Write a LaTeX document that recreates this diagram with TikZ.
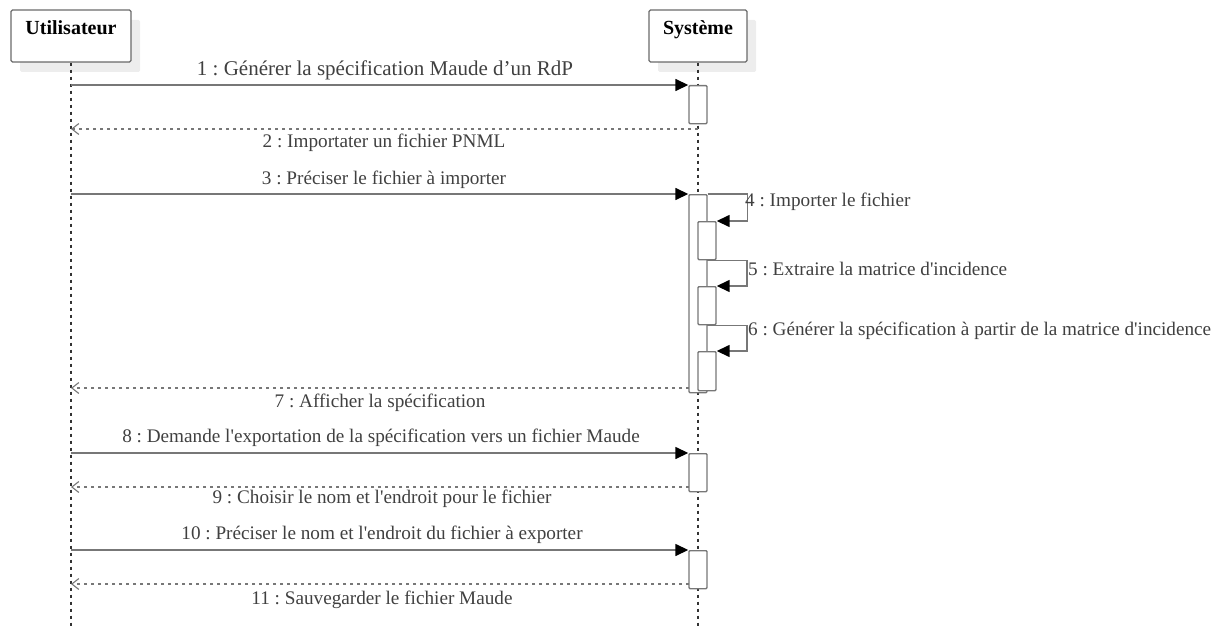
\documentclass[tikz,border=0pt]{standalone}
\usepackage{fontspec}
\setmainfont{Liberation Serif}
\usetikzlibrary{arrows.meta, positioning, shadows}
\definecolor{linegray}{HTML}{777777}
\definecolor{boxgray}{HTML}{6A6A6A}
\definecolor{textgray}{HTML}{404040}
\newcommand{\apos}{\textquotesingle}

\begin{document}
\frenchspacing
\begin{tikzpicture}[x=1pt, y=-1pt, font=\fontsize{19.2}{22}\selectfont,
    actor/.style={draw=boxgray, line width=1.4pt, rounded corners=1.5pt, fill=white,
        minimum width=120pt, minimum height=52pt, text height=10pt, text depth=12pt,
        font=\fontsize{20}{22}\selectfont\bfseries,
        copy shadow={shadow xshift=9pt, shadow yshift=-10pt, fill=black!7, draw=none}},
    act/.style={draw=linegray, line width=1.4pt, fill=white, rounded corners=1pt,
        minimum width=18pt, inner sep=0pt, anchor=north},
    life/.style={draw=black!80, line width=1.1pt, dash pattern=on 3.5pt off 3.5pt},
    msg/.style={draw=linegray, line width=1.5pt, -{Triangle[length=13pt, width=12pt, color=black]}},
    ret/.style={draw=linegray, line width=1.3pt, dash pattern=on 3.5pt off 3.5pt,
        -{Straight Barb[length=7pt, width=11pt, line width=1.1pt]}},
    lbl/.style={text=textgray, inner sep=0pt}]
\useasboundingbox (0,0) rectangle (1213,626);

% acteurs et lignes de vie
\node[actor] (user) at (71,36) {Utilisateur};
\node[actor, minimum width=98pt] (sys) at (698,36) {Système};
\coordinate (uend) at (71,626);
\coordinate (send) at (698,626);
\draw[life] (user.south) -- (uend);
\draw[life] (sys.south) -- (send);

% activations
\node[act, minimum height=38pt] (a1) at (698,85) {};
\node[act, minimum height=198pt] (a3) at (698,194) {};
\node[act, minimum height=38pt] (b4) at (707,221) {};
\node[act, minimum height=38pt] (b5) at (707,286) {};
\node[act, minimum height=39pt] (b6) at (707,351) {};
\node[act, minimum height=38pt] (a8) at (698,453) {};
\node[act, minimum height=38pt] (a10) at (698,550) {};

% 1 - 2
\coordinate (u1) at (71,85);
\draw[msg] (u1) -- (a1.north west);
\node[lbl, font=\fontsize{21}{24}\selectfont] (m1) at (385,70) {1 : Générer la spécification Maude d’un RdP};
\coordinate (s2) at (698,129);
\coordinate (u2) at (71,129);
\draw[ret] (s2) -- (u2);
\node[lbl] (m2) at (384,143) {2 : Importater un fichier PNML};

% 3 - 7
\coordinate (u3) at (71,194);
\draw[msg] (u3) -- (a3.north west);
\node[lbl] (m3) at (384,180) {3 : Préciser le fichier à importer};
\draw[msg] (a3.north east) -- ++(40,0) |- (b4.north east);
\node[lbl, anchor=west] (m4) at (745,202) {4 : Importer le fichier};
\draw[msg] (b4.south) -- ++(40,0) |- (b5.north east);
\node[lbl, anchor=west] (m5) at (748,269) {5 : Extraire la matrice d\apos incidence};
\draw[msg] (b5.south) -- ++(40,0) |- (b6.north east);
\node[lbl, anchor=west] (m6) at (748,331) {6 : Générer la spécification à partir de la matrice d\apos incidence};
\coordinate (s7) at (689,388);
\coordinate (u7) at (71,388);
\draw[ret] (s7) -- (u7);
\node[lbl] (m7) at (380,403) {7 : Afficher la spécification};

% 8 - 9
\coordinate (u8) at (71,453);
\draw[msg] (u8) -- (a8.north west);
\node[lbl] (m8) at (381,438) {8 : Demande l\apos exportation de la spécification vers un fichier Maude};
\coordinate (s9) at (689,487);
\coordinate (u9) at (71,487);
\draw[ret] (s9) -- (u9);
\node[lbl] (m9) at (382,499) {9 : Choisir le nom et l\apos endroit pour le fichier};

% 10 - 11
\coordinate (u10) at (71,550);
\draw[msg] (u10) -- (a10.north west);
\node[lbl] (m10) at (382,535) {10 : Préciser le nom et l\apos endroit du fichier à exporter};
\coordinate (s11) at (689,584);
\coordinate (u11) at (71,584);
\draw[ret] (s11) -- (u11);
\node[lbl] (m11) at (382,600) {11 : Sauvegarder le fichier Maude};
\end{tikzpicture}
\end{document}
